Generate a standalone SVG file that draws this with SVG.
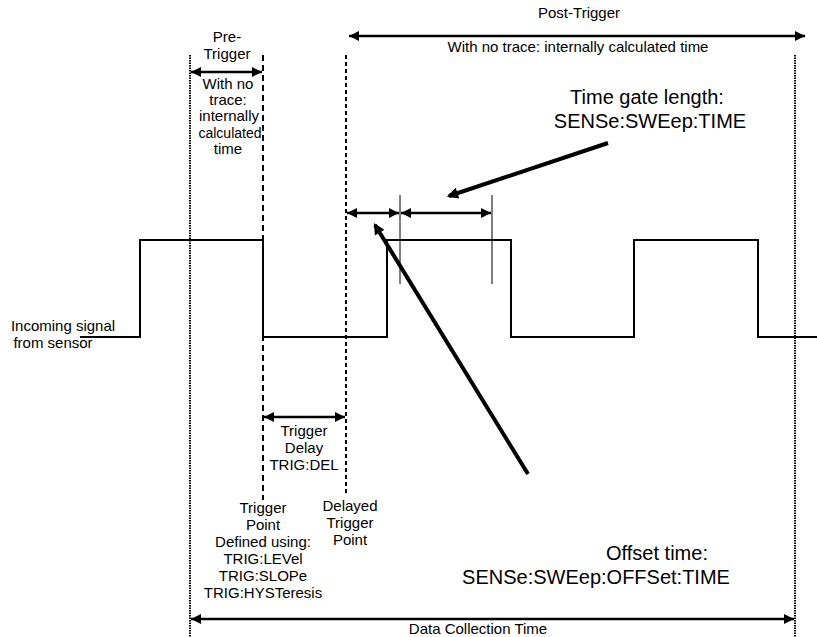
<svg xmlns="http://www.w3.org/2000/svg" width="817" height="637" viewBox="0 0 817 637">
<style>
text{font-family:"Liberation Sans",Arial,sans-serif;font-size:15px;fill:#000;text-anchor:middle}
.big{font-size:20px}
.pre{font-size:14px}
.sig{fill:none;stroke:#000;stroke-width:2}
.dot{stroke:#000;stroke-width:2;stroke-dasharray:1.5 1}
.dash{stroke:#000;stroke-width:2;stroke-dasharray:6 4}
.dash2{stroke:#000;stroke-width:2;stroke-dasharray:4 3}
.arr{stroke:#000;stroke-width:2.5;fill:none;marker-start:url(#ah);marker-end:url(#ah)}
.thick{stroke:#000;stroke-width:4;fill:none;marker-end:url(#ahb)}
.thin{stroke:#000;stroke-width:1}
</style>
<defs>
<marker id="ah" viewBox="0 0 10 10" refX="10" refY="5" markerWidth="4.5" markerHeight="4" orient="auto-start-reverse" markerUnits="strokeWidth">
<path d="M0,0 L10,5 L0,10 z" fill="#000"/>
</marker>
<marker id="ahb" viewBox="0 0 10 10" refX="8" refY="5" markerWidth="4" markerHeight="2.8" orient="auto" markerUnits="strokeWidth">
<path d="M0,0 L10,5 L0,10 z" fill="#000"/>
</marker>
</defs>
<g id="signal">
<polyline class="sig" points="80,337 140,337 140,240 263,240 263,337 387,337 387,240 511,240 511,337 634,337 634,240 758,240 758,337 817,337"/>
<text x="63" y="331">Incoming signal</text>
<text x="53" y="348">from sensor</text>
</g>
<g id="markers">
<line class="dot" x1="190" y1="55" x2="190" y2="637"/>
<line class="dash" x1="263" y1="55" x2="263" y2="500"/>
<line class="dash2" x1="346" y1="55" x2="346" y2="495"/>
<line class="dot" x1="795" y1="55" x2="795" y2="637"/>
<line class="thin" x1="400" y1="195" x2="400" y2="284"/>
<line class="thin" x1="492" y1="195" x2="492" y2="284"/>
</g>
<g id="connectors">
<line class="arr" x1="191" y1="72" x2="262" y2="72"/>
<line class="arr" x1="349" y1="36" x2="805" y2="36"/>
<line class="arr" x1="347" y1="213" x2="399" y2="213"/>
<line class="arr" x1="401" y1="213" x2="491" y2="213"/>
<line class="arr" x1="264" y1="417" x2="345" y2="417"/>
<line class="arr" x1="191" y1="619" x2="794" y2="619"/>
<line class="thick" x1="608" y1="143" x2="449" y2="196"/>
<line class="thick" x1="528" y1="474" x2="375" y2="225"/>
</g>
<g id="pretrigger">
<text x="227" y="42">Pre-</text>
<text x="227" y="59">Trigger</text>
<text x="228" y="89">With no</text>
<text x="228" y="105">trace:</text>
<text x="229" y="121">internally</text>
<text class="pre" x="230" y="138">calculated</text>
<text x="228" y="154">time</text>
</g>
<g id="posttrigger">
<text x="579" y="18">Post-Trigger</text>
<text x="578" y="52">With no trace: internally calculated time</text>
</g>
<g id="timegate">
<text class="big" x="647" y="104">Time gate length:</text>
<text class="big" x="650" y="128">SENSe:SWEep:TIME</text>
</g>
<g id="offset">
<text class="big" x="657" y="560">Offset time:</text>
<text class="big" x="596" y="584">SENSe:SWEep:OFFSet:TIME</text>
</g>
<g id="delay">
<text x="304" y="436">Trigger</text>
<text x="304" y="453">Delay</text>
<text x="304" y="470">TRIG:DEL</text>
</g>
<g id="triggerpoint">
<text x="263" y="513">Trigger</text>
<text x="263" y="530">Point</text>
<text x="263" y="547">Defined using:</text>
<text x="263" y="564">TRIG:LEVel</text>
<text x="263" y="581">TRIG:SLOPe</text>
<text x="263" y="598">TRIG:HYSTeresis</text>
</g>
<g id="delayedpoint">
<text x="350" y="511">Delayed</text>
<text x="350" y="528">Trigger</text>
<text x="350" y="545">Point</text>
</g>
<g id="datacollection">
<text x="478" y="634">Data Collection Time</text>
</g>
</svg>
